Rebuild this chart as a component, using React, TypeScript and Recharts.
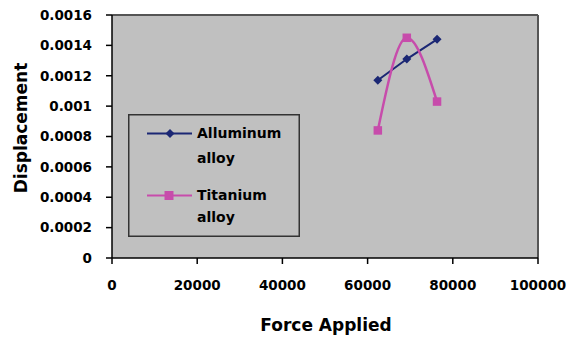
import React from 'react';
import { ComposedChart, Line, XAxis, YAxis, CartesianGrid, Legend, ReferenceLine } from 'recharts';

// Force applied (N) and measured displacement for each alloy
const aluminumForce = [62400, 69200, 76300];
const aluminumDisp = [0.00117, 0.00131, 0.00144];
const titaniumForce = [62400, 69200, 76300];
const titaniumDisp = [0.00084, 0.00145, 0.00103];

const xTicks = [0, 20000, 40000, 60000, 80000, 100000];
const yTicks = [0, 0.0002, 0.0004, 0.0006, 0.0008, 0.001, 0.0012, 0.0014, 0.0016];

const aluminumData = aluminumForce.map((x, i) => ({ x, y: aluminumDisp[i] }));
const titaniumData = titaniumForce.map((x, i) => ({ x, y: titaniumDisp[i] }));

const FONT = '"DejaVu Sans", sans-serif';
const NAVY = '#1b2774';
const PINK = '#c74cab';

const Diamond = (props: any) => {
  const { cx, cy, fill, r = 4.5 } = props;
  if (cx == null || cy == null) return <g />;
  return <path d={`M${cx},${cy - r}L${cx + r},${cy}L${cx},${cy + r}L${cx - r},${cy}Z`} fill={fill} />;
};

const Square = (props: any) => {
  const { cx, cy, fill, s = 8.5 } = props;
  if (cx == null || cy == null) return <g />;
  return <rect x={cx - s / 2} y={cy - s / 2} width={s} height={s} fill={fill} />;
};

const LegendBox = () => (
  <svg width={172} height={123} style={{ display: 'block' }}>
    <rect x={0.75} y={0.75} width={170.5} height={121.5} fill="none" stroke="#333" strokeWidth={1.5} />
    <line x1={19} x2={64} y1={19.5} y2={19.5} stroke={NAVY} strokeWidth={2} />
    <Diamond cx={42} cy={19.5} fill={NAVY} r={4.5} />
    <text x={69} y={24} fontFamily={FONT} fontWeight="bold" fontSize={14} fill="#000">Alluminum</text>
    <text x={69} y={49} fontFamily={FONT} fontWeight="bold" fontSize={14} fill="#000">alloy</text>
    <line x1={19} x2={64} y1={81.5} y2={81.5} stroke={PINK} strokeWidth={2} />
    <Square cx={41} cy={81.5} fill={PINK} s={9} />
    <text x={69} y={86} fontFamily={FONT} fontWeight="bold" fontSize={14} fill="#000">Titanium</text>
    <text x={69} y={107.5} fontFamily={FONT} fontWeight="bold" fontSize={14} fill="#000">alloy</text>
  </svg>
);

const tickStyle = { fontFamily: FONT, fontWeight: 'bold', fontSize: 13.5, fill: '#000' };

export default function App() {
  return (
    <div style={{ position: 'absolute', left: 0, top: 0, width: 568, height: 340, background: '#fff' }}>
      <ComposedChart width={568} height={340} margin={{ top: 15, right: 30, bottom: 0, left: 0 }}>
        <CartesianGrid fill="#c0c0c0" horizontal={false} vertical={false} />
        <XAxis
          type="number"
          dataKey="x"
          domain={[0, 100000]}
          ticks={xTicks}
          interval={0}
          height={82}
          tick={tickStyle}
          tickSize={6}
          tickMargin={16}
          axisLine={{ stroke: '#000', strokeWidth: 1.5 }}
          tickLine={{ stroke: '#000', strokeWidth: 1.5 }}
          label={{
            content: () => (
              <text x={326} y={331} textAnchor="middle" fontFamily={FONT} fontWeight="bold" fontSize={17} fill="#000">
                Force Applied
              </text>
            ),
          }}
        />
        <YAxis
          type="number"
          dataKey="y"
          domain={[0, 0.0016]}
          ticks={yTicks}
          interval={0}
          width={112}
          tick={tickStyle}
          tickFormatter={(v: number) => String(v)}
          tickSize={6}
          tickMargin={14}
          axisLine={{ stroke: '#000', strokeWidth: 1.5 }}
          tickLine={{ stroke: '#000', strokeWidth: 1.5 }}
          label={{
            content: () => (
              <text
                x={27}
                y={128}
                transform="rotate(-90 27 128)"
                textAnchor="middle"
                fontFamily={FONT}
                fontWeight="bold"
                fontSize={17}
                fill="#000"
              >
                Displacement
              </text>
            ),
          }}
        />
        <ReferenceLine y={0.0016} stroke="#555" strokeWidth={2} />
        <ReferenceLine x={100000} stroke="#555" strokeWidth={2} />
        <Legend
          layout="vertical"
          align="center"
          verticalAlign="middle"
          content={() => <LegendBox />}
          wrapperStyle={{ left: 128, top: 114, width: 172, height: 123 }}
        />
        <Line
          data={aluminumData}
          dataKey="y"
          name="Alluminum alloy"
          type="linear"
          stroke={NAVY}
          strokeWidth={2}
          dot={(p: any) => <Diamond key={`a${p.index}`} cx={p.cx} cy={p.cy} fill={NAVY} r={4.5} />}
          activeDot={false}
          isAnimationActive={false}
        />
        <Line
          data={titaniumData}
          dataKey="y"
          name="Titanium alloy"
          type="monotone"
          stroke={PINK}
          strokeWidth={2.5}
          dot={(p: any) => <Square key={`t${p.index}`} cx={p.cx} cy={p.cy} fill={PINK} s={8.5} />}
          activeDot={false}
          isAnimationActive={false}
        />
      </ComposedChart>
    </div>
  );
}
